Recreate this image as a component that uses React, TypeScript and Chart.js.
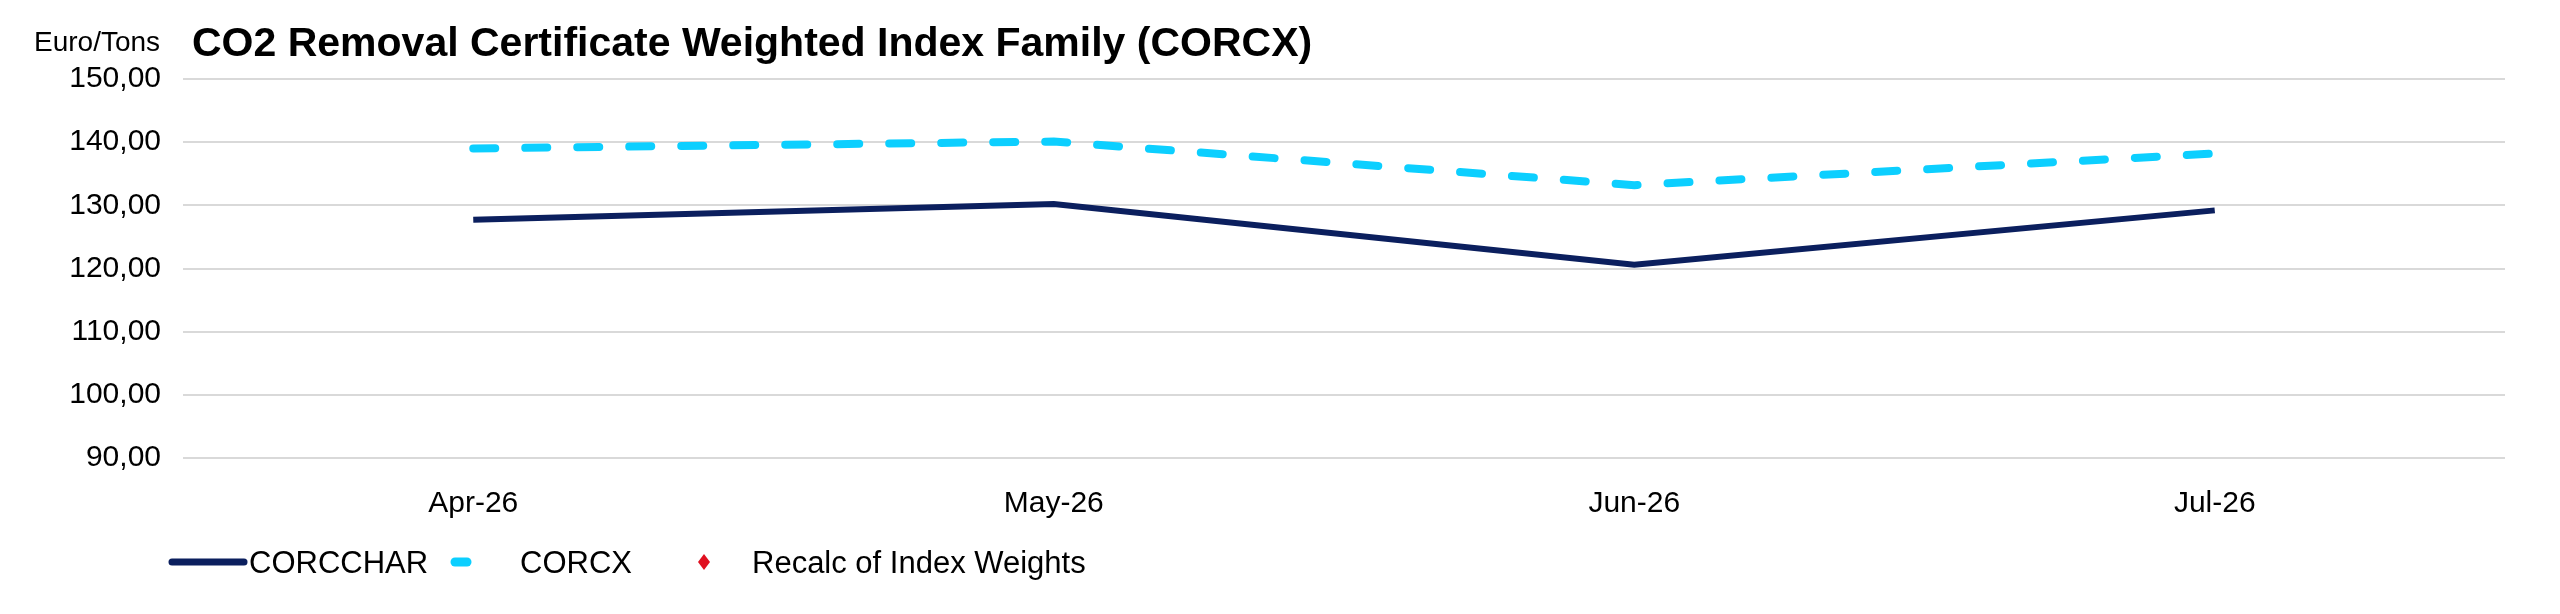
import React, { useEffect, useRef } from "react";
import { Chart, registerables } from "chart.js";
Chart.register(...registerables);

const categories = ["Apr-26", "May-26", "Jun-26", "Jul-26"];
const corcchar = [127.7, 130.2, 120.6, 129.2];
const corcx = [139.0, 140.1, 133.2, 138.2];
const recalc: (number | null)[] = [null, null, null, null];

const NAVY = "#0b1f5e";
const CYAN = "#0ccfff";
const FONT = "'Liberation Sans', Arial, sans-serif";

export default function App() {
  const ref = useRef<HTMLCanvasElement>(null);
  useEffect(() => {
    const chart = new Chart(ref.current!, {
      type: "line",
      data: {
        labels: categories,
        datasets: [
          { label: "CORCCHAR", data: corcchar, borderColor: NAVY, borderWidth: 6, pointRadius: 0, tension: 0 },
          { label: "CORCX", data: corcx, borderColor: CYAN, borderWidth: 8, borderDash: [22, 30], borderCapStyle: "round", pointRadius: 0, tension: 0 },
          { label: "Recalc of Index Weights", data: recalc, borderColor: "#e01020", backgroundColor: "#e01020", showLine: false, pointStyle: "rectRot", pointRadius: 7 },
        ],
      },
      options: {
        animation: false,
        responsive: false,
        layout: { padding: { left: 0, top: 71, right: 47, bottom: 0 } },
        plugins: { legend: { display: false }, title: { display: false }, tooltip: { enabled: false } },
        scales: {
          x: {
            offset: true,
            grid: { display: false },
            border: { display: false },
            ticks: { color: "#000", font: { family: FONT, size: 30 }, padding: 20 },
            afterFit: (s: any) => { s.height = 150; },
          },
          y: {
            min: 90,
            max: 150,
            grid: { color: "#d9d9d9", lineWidth: 2, drawTicks: false },
            border: { display: false },
            ticks: {
              stepSize: 10,
              color: "#000",
              padding: 22,
              font: { family: FONT, size: 30 },
              callback: (v: any) => Number(v).toFixed(2).replace(".", ","),
            },
            afterFit: (s: any) => { s.width = 175; },
          },
        },
      },
    });
    return () => chart.destroy();
  }, []);

  const txt: React.CSSProperties = { position: "absolute", fontFamily: FONT, color: "#000", whiteSpace: "nowrap", lineHeight: 1 };
  return (
    <div style={{ position: "relative", width: 2544, height: 600 }}>
      <canvas ref={ref} width={2544} height={600} style={{ display: "block" }} />
      <div style={{ ...txt, left: 26, top: 20, fontSize: 28 }}>Euro/Tons</div>
      <div style={{ ...txt, left: 184, top: 14, fontSize: 41, fontWeight: "bold" }}>CO2 Removal Certificate Weighted Index Family (CORCX)</div>
      <svg style={{ position: "absolute", left: 0, top: 530 }} width={1200} height={50}>
        <line x1={164} y1={24} x2={236} y2={24} stroke={NAVY} strokeWidth={7} strokeLinecap="round" />
        <line x1={447} y1={24} x2={506} y2={24} stroke={CYAN} strokeWidth={9} strokeLinecap="round" strokeDasharray="12 47" />
        <polygon points="696,16 702,24 696,32 690,24" fill="#e01020" />
      </svg>
      <div style={{ ...txt, left: 241, top: 539, fontSize: 31 }}>CORCCHAR</div>
      <div style={{ ...txt, left: 512, top: 539, fontSize: 31 }}>CORCX</div>
      <div style={{ ...txt, left: 744, top: 539, fontSize: 31 }}>Recalc of Index Weights</div>
    </div>
  );
}
